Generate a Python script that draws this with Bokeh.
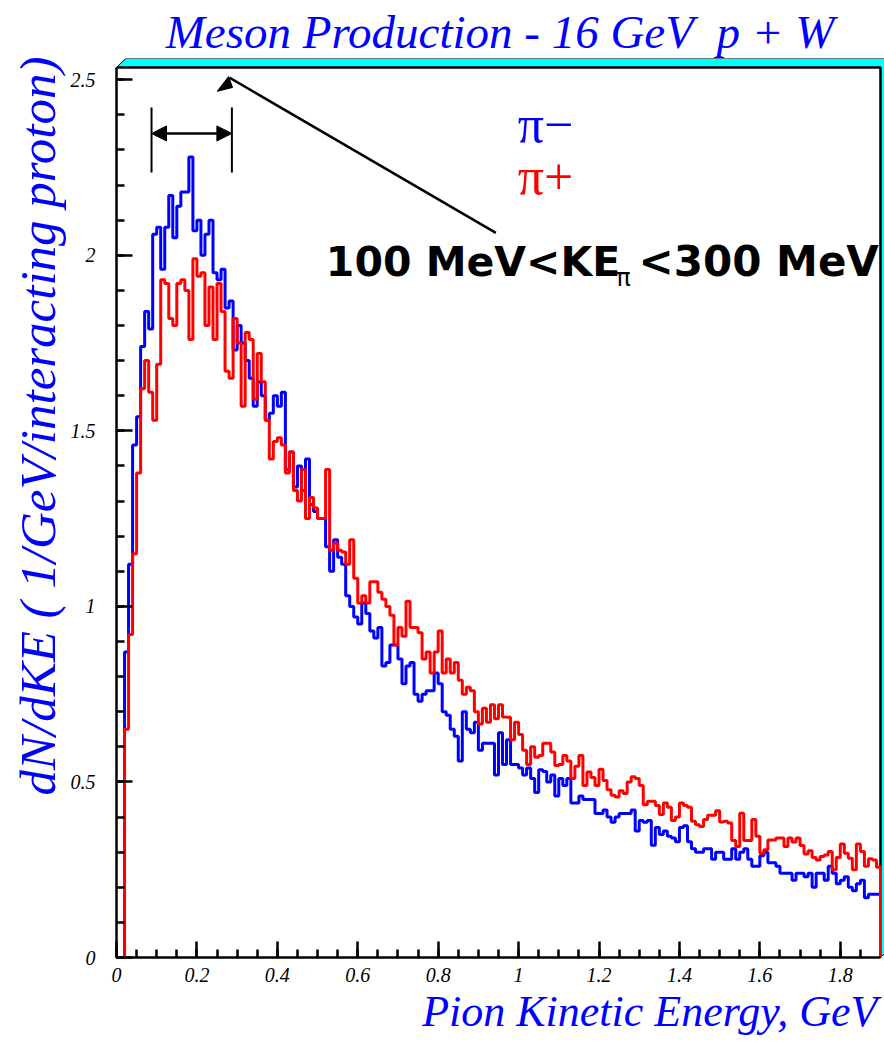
import numpy as np
from bokeh.plotting import figure
from bokeh.models import (Range1d, SingleIntervalTicker, CustomJSTickFormatter, Label, Title,
                          Arrow, NormalHead)
from bokeh.embed import file_html
from bokeh.resources import INLINE

# ---------------- data ----------------
bin_width = 0.01
x_min, x_max = 0.0, 1.9
y_min, y_max = 0.0, 2.535
pi_minus = [
    0, 0, 0.87, 1.12, 1.46, 1.54, 1.74, 1.84, 1.79, 2.06,
    2.08, 1.96, 2.08, 2.17, 2.05, 2.14, 2.18, 2.18, 2.28, 2.07,
    2.10, 2.00, 2.06, 2.10, 1.95, 1.93, 1.96, 1.85, 1.87, 1.73,
    1.80, 1.75, 1.70, 1.65, 1.57, 1.64, 1.60, 1.53, 1.55, 1.60,
    1.57, 1.61, 1.39, 1.44, 1.34, 1.40, 1.33, 1.42, 1.29, 1.27,
    1.25, 1.25, 1.17, 1.10, 1.19, 1.14, 1.12, 1.03, 1.00, 0.97,
    0.95, 1.01, 0.98, 0.93, 0.91, 0.94, 0.83, 0.84, 0.89, 0.89,
    0.85, 0.78, 0.83, 0.84, 0.75, 0.73, 0.75, 0.76, 0.76, 0.81,
    0.78, 0.70, 0.69, 0.65, 0.63, 0.56, 0.70, 0.65, 0.64, 0.67,
    0.59, 0.61, 0.61, 0.61, 0.52, 0.64, 0.55, 0.62, 0.55, 0.55,
    0.54, 0.52, 0.54, 0.51, 0.47, 0.535, 0.53, 0.50, 0.52, 0.46,
    0.51, 0.49, 0.51, 0.44, 0.44, 0.46, 0.45, 0.45, 0.45, 0.41,
    0.41, 0.42, 0.40, 0.385, 0.40, 0.41, 0.41, 0.41, 0.42, 0.36,
    0.39, 0.385, 0.39, 0.32, 0.37, 0.35, 0.36, 0.345, 0.34, 0.33,
    0.37, 0.375, 0.33, 0.31, 0.30, 0.30, 0.31, 0.31, 0.28, 0.30,
    0.30, 0.28, 0.28, 0.31, 0.28, 0.30, 0.31, 0.28, 0.26, 0.26,
    0.29, 0.30, 0.27, 0.27, 0.26, 0.24, 0.24, 0.24, 0.22, 0.24,
    0.24, 0.23, 0.24, 0.20, 0.24, 0.24, 0.22, 0.26, 0.24, 0.21,
    0.22, 0.23, 0.20, 0.19, 0.21, 0.22, 0.17, 0.18, 0.18, 0.18,
]
pi_plus = [
    0, 0, 0.65, 0.92, 1.15, 1.38, 1.62, 1.70, 1.61, 1.53,
    1.69, 1.93, 1.92, 1.82, 1.80, 1.92, 1.93, 1.90, 1.76, 1.99,
    1.94, 1.95, 1.80, 1.91, 1.76, 1.92, 1.84, 1.67, 1.65, 1.82,
    1.75, 1.57, 1.78, 1.76, 1.59, 1.72, 1.64, 1.53, 1.42, 1.47,
    1.48, 1.46, 1.38, 1.44, 1.33, 1.30, 1.39, 1.25, 1.31, 1.28,
    1.25, 1.25, 1.39, 1.16, 1.18, 1.16, 1.155, 1.12, 1.19, 1.08,
    1.01, 1.03, 1.01, 1.07, 1.07, 1.04, 1.02, 1.00, 0.975, 0.89,
    0.94, 0.915, 1.015, 0.94, 0.94, 0.925, 0.85, 0.87, 0.81, 0.87,
    0.93, 0.81, 0.85, 0.81, 0.84, 0.79, 0.75, 0.77, 0.76, 0.70,
    0.665, 0.71, 0.67, 0.72, 0.68, 0.72, 0.685, 0.684, 0.62, 0.67,
    0.635, 0.59, 0.55, 0.60, 0.57, 0.575, 0.61, 0.61, 0.585, 0.547,
    0.55, 0.575, 0.56, 0.51, 0.545, 0.575, 0.49, 0.528, 0.513, 0.49,
    0.536, 0.504, 0.478, 0.462, 0.457, 0.475, 0.467, 0.50, 0.515, 0.51,
    0.49, 0.435, 0.445, 0.445, 0.433, 0.407, 0.44, 0.428, 0.39, 0.40,
    0.44, 0.433, 0.428, 0.388, 0.378, 0.373, 0.393, 0.405, 0.405, 0.418,
    0.386, 0.388, 0.383, 0.333, 0.316, 0.411, 0.333, 0.333, 0.393, 0.345,
    0.297, 0.307, 0.335, 0.335, 0.34, 0.34, 0.316, 0.34, 0.329, 0.34,
    0.319, 0.295, 0.304, 0.285, 0.278, 0.288, 0.292, 0.302, 0.25, 0.285,
    0.323, 0.297, 0.283, 0.25, 0.323, 0.302, 0.26, 0.281, 0.278, 0.257,
]
x_ticks_interval = 0.2
y_ticks_interval = 0.5

title_text = "Meson Production - 16 GeV \u00a0p + W"
x_label = "Pion Kinetic Energy, GeV"
y_label = "dN/dKE ( 1/GeV/interacting proton)"

BLUE = "#0000ff"
RED = "#ff0000"
SERIF = "Liberation Serif"


def step_path(vals):
    vals = np.asarray(vals, dtype=float)
    edges = np.arange(len(vals) + 1) * bin_width
    xs = [edges[0]]
    ys = [0.0]
    for i, v in enumerate(vals):
        xs += [edges[i], edges[i + 1]]
        ys += [v, v]
    xs.append(edges[-1])
    ys.append(0.0)
    return xs, ys


# frame extends a little beyond the axes to hold the cyan 3-D border
X_END = 1.910
Y_END = 2.5605

p = figure(width=884, height=1042, x_range=Range1d(x_min, X_END), y_range=Range1d(y_min, Y_END),
           output_backend="svg", toolbar_location=None,
           min_border_left=116, min_border_right=0, min_border_top=58, min_border_bottom=85,
           background_fill_color="white", border_fill_color="white")
p.xgrid.visible = False
p.ygrid.visible = False
p.outline_line_color = None

p.title.text = title_text
p.title.align = "center"
p.title.text_font = SERIF
p.title.text_font_style = "italic"
p.title.text_font_size = "47px"
p.title.text_color = BLUE
p.title.standoff = 2

# cyan 3D border
dx, dy = 0.0231, Y_END - y_max
p.patch(x=[x_min, x_min + dx, x_max + dx, x_max + dx, x_max, x_max],
        y=[y_max, Y_END, Y_END, dy, y_min, y_max],
        fill_color="#00ffff", line_color="black", line_width=1)
p.line([x_min, x_max, x_max], [y_max, y_max, y_min], line_color="black", line_width=2.5)

fmt = CustomJSTickFormatter(code="return (Math.round(tick*10)/10).toString();")
for ax, interval, nminor, bnds in ((p.xaxis[0], x_ticks_interval, 4, (x_min, x_max)),
                                    (p.yaxis[0], y_ticks_interval, 5, (y_min, y_max))):
    ax.ticker = SingleIntervalTicker(interval=interval, num_minor_ticks=nminor)
    ax.formatter = fmt
    ax.bounds = bnds
    ax.axis_line_width = 2.5
    ax.major_tick_in = 16
    ax.major_tick_out = 0
    ax.minor_tick_in = 8
    ax.minor_tick_out = 0
    ax.major_tick_line_width = 2.5
    ax.minor_tick_line_width = 2.5
    ax.major_label_text_font = SERIF
    ax.major_label_text_font_style = "italic"
    ax.major_label_text_font_size = "20px"
    ax.major_label_text_color = "black"
p.xaxis[0].major_label_standoff = 10
p.yaxis[0].major_label_standoff = 21

p.add_layout(Title(text=y_label, align="left", offset=162, text_font=SERIF, text_font_style="italic",
                   text_font_size="51px", text_color=BLUE, standoff=4), "left")
p.add_layout(Title(text=x_label, align="right", offset=7, text_font=SERIF, text_font_style="italic",
                   text_font_size="44px", text_color=BLUE, standoff=0), "below")

bx, by = step_path(pi_minus)
rx, ry = step_path(pi_plus)
p.line(bx, by, line_color=BLUE, line_width=3)
p.line(rx, ry, line_color=RED, line_width=3)

# bracket 100-300 MeV
p.segment(x0=[0.0871, 0.2870], y0=[2.236, 2.236], x1=[0.0871, 0.2870], y1=[2.421, 2.421],
          line_color="black", line_width=2)
p.add_layout(Arrow(x_start=0.0871, y_start=2.347, x_end=0.2870, y_end=2.347,
                   start=NormalHead(size=15, fill_color="black", line_color="black"),
                   end=NormalHead(size=15, fill_color="black", line_color="black"),
                   line_width=2.5, line_color="black"))
# pointer arrow
p.segment(x0=[0.9435], y0=[2.064], x1=[0.2808], y1=[2.506], line_color="black", line_width=2.5)
p.patch(x=[0.2505, 0.2786, 0.2886], y=[2.467, 2.509, 2.478], fill_color="black", line_color="black")

# legend-like labels
p.add_layout(Label(x=0.998, y=2.372, text="π−", text_align="left", text_baseline="alphabetic",
                   text_font=SERIF, text_font_size="52px", text_color=BLUE))
p.add_layout(Label(x=0.998, y=2.224, text="π+", text_align="left", text_baseline="alphabetic",
                   text_font=SERIF, text_font_size="52px", text_color=RED))
p.add_layout(Label(x=0.5207, y=1.981, text="100 MeV<KE", text_align="left", text_baseline="alphabetic",
                   text_font="DejaVu Sans", text_font_style="bold", text_font_size="41px", text_color="black"))
p.add_layout(Label(x=1.243, y=1.936, text="π", text_align="left", text_baseline="alphabetic",
                   text_font="DejaVu Sans", text_font_size="24px", text_color="black"))
p.add_layout(Label(x=1.896, y=1.981, text="<300 MeV", text_align="right", text_baseline="alphabetic",
                   text_font="DejaVu Sans", text_font_style="bold", text_font_size="42px", text_color="black"))

open("out.html", "w").write(file_html(p, INLINE))
